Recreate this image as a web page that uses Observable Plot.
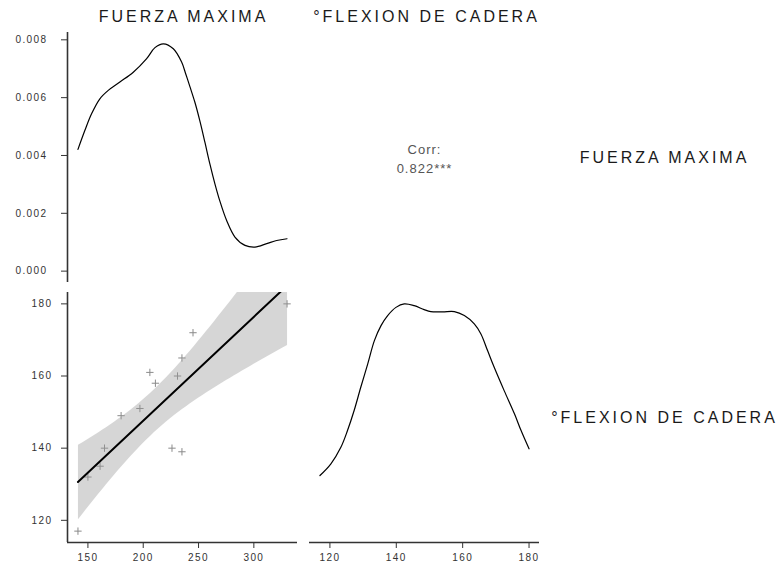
<!DOCTYPE html>
<html><head><meta charset="utf-8">
<script src="https://cdn.jsdelivr.net/npm/d3@7"></script>
<script src="https://cdn.jsdelivr.net/npm/@observablehq/plot@0.6"></script>
<style>
body{margin:0;background:#fff;}
#chart{position:relative;width:778px;height:567px;overflow:hidden;font-family:"Liberation Sans",Arial,sans-serif;background:#fff;}
.panel{position:absolute;}
.strip{position:absolute;font-size:16px;line-height:16px;letter-spacing:3px;color:#1a1a1a;white-space:nowrap;text-align:center;width:260px;padding-left:3px;}
</style></head><body><div id="chart"></div>
<script>
// ---- data ----
const variables = ["FUERZA MAXIMA", "°FLEXION DE CADERA"];
const fuerzaMaxima  = [141, 150, 161, 165, 180, 197, 206, 211, 226, 231, 235, 235, 245, 330];
const flexionCadera = [117, 132, 135, 140, 149, 151, 161, 158, 140, 160, 165, 139, 172, 180];
const corrLabel = "Corr:";
const corrValue = "0.822***";
// density of FUERZA MAXIMA
const fuerzaDensX = [141, 147.3, 153.3, 160.8, 168.4, 178.9, 191.0, 203.1, 210.6, 218.2, 227.2, 234.7, 238.6, 242.2, 246.7, 251.3, 255.8, 260.3, 264.8, 269.3, 275.4, 282.9, 292.0, 301.0, 311.6, 320.6, 330];
const fuerzaDensY = [0.00421, 0.00487, 0.00544, 0.00596, 0.00625, 0.00654, 0.00688, 0.00735, 0.00773, 0.00786, 0.00769, 0.00723, 0.00680, 0.00638, 0.00584, 0.00518, 0.00445, 0.00370, 0.00302, 0.00242, 0.00175, 0.00118, 0.00089, 0.00083, 0.00095, 0.00106, 0.00112];
// density of °FLEXION DE CADERA
const flexionDensX = [117, 120.3, 123.3, 125.3, 127.3, 129.3, 131.4, 133.4, 135.4, 137.4, 139.9, 142.4, 145.4, 148.4, 150.4, 154.0, 157.5, 160.5, 163.5, 165.5, 167.5, 169.5, 172.5, 175.6, 177.6, 180];
const flexionDensY = [0.00475, 0.00575, 0.00716, 0.00859, 0.01030, 0.01229, 0.01428, 0.01627, 0.01755, 0.01841, 0.01911, 0.01941, 0.01926, 0.01892, 0.01875, 0.01873, 0.01875, 0.01841, 0.01770, 0.01684, 0.01542, 0.01399, 0.01200, 0.01002, 0.00859, 0.00703];
const densityTicks = [0, 0.002, 0.004, 0.006, 0.008];
const fuerzaTicks = [150, 200, 250, 300];
const flexionTicks = [120, 140, 160, 180];

// ---- derived tables ----
const points = fuerzaMaxima.map((x, i) => ({x, y: flexionCadera[i]}));
const fuerzaDens = fuerzaDensX.map((x, i) => ({x, y: fuerzaDensY[i]}));
const flexionDens = flexionDensX.map((x, i) => ({x, y: flexionDensY[i]}));
const expand = ([a, b], f = 0.05) => [a - f * (b - a), b + f * (b - a)];

const fuerzaDomain = expand(d3.extent(fuerzaMaxima));
const flexionDomain = expand(d3.extent(flexionCadera));
const fuerzaDensDomain = expand([0, d3.max(fuerzaDensY)]);
const flexionDensDomain = expand([0, d3.max(flexionDensY)]);

const axisColor = "#333";
const baseStyle = "font-family:'Liberation Sans',Arial,sans-serif;font-size:10px;letter-spacing:1.4px;color:#333;background:transparent;overflow:visible;";

const chart = document.getElementById("chart");
function place(node, left, top) {
  const d = document.createElement("div");
  d.className = "panel";
  d.style.left = left + "px";
  d.style.top = top + "px";
  d.appendChild(node);
  chart.appendChild(d);
}

// top-left: density of FUERZA MAXIMA
place(Plot.plot({
  width: 300, height: 290,
  marginLeft: 67, marginRight: 3, marginTop: 32, marginBottom: 8,
  style: baseStyle,
  x: {domain: fuerzaDomain, axis: null},
  y: {domain: fuerzaDensDomain},
  marks: [
    Plot.axisY(densityTicks, {tickSize: 6, tickPadding: 14, tickFormat: d3.format(".3f"), label: null, stroke: axisColor}),
    Plot.ruleX([fuerzaDomain[0]], {stroke: axisColor, strokeWidth: 1.6}),
    Plot.line(fuerzaDens, {x: "x", y: "y", curve: "catmull-rom", stroke: "black", strokeWidth: 1.2})
  ]
}), 0, 0);

// top-right: correlation text
place(Plot.plot({
  width: 250, height: 290,
  marginLeft: 9, marginRight: 11, marginTop: 32, marginBottom: 8,
  style: "font-family:'Liberation Sans',Arial,sans-serif;background:transparent;overflow:visible;letter-spacing:1px;",
  marks: [
    Plot.text([corrLabel + "\n" + corrValue], {text: d => d, frameAnchor: "middle", fontSize: 13, lineHeight: 1.45, fill: "#555"})
  ]
}), 300, 0);

// bottom-left: scatter + linear fit
place(Plot.plot({
  width: 300, height: 277,
  marginLeft: 67, marginRight: 3, marginTop: 2, marginBottom: 25,
  style: baseStyle,
  x: {domain: fuerzaDomain},
  y: {domain: flexionDomain},
  marks: [
    Plot.axisY(flexionTicks, {tickSize: 6, tickPadding: 9, label: null, stroke: axisColor}),
    Plot.axisX(fuerzaTicks, {tickSize: 6, tickPadding: 5, label: null, stroke: axisColor}),
    Plot.dot(points, {x: "x", y: "y", symbol: "plus", r: 2.5, stroke: "#8a8a8a", strokeWidth: 1}),
    Plot.linearRegressionY(points, {x: "x", y: "y", stroke: "black", strokeWidth: 2, fill: "#999", fillOpacity: 0.4, ci: 0.95, clip: true}),
    Plot.ruleX([fuerzaDomain[0]], {stroke: axisColor, strokeWidth: 1.6}),
    Plot.ruleY([flexionDomain[0]], {stroke: axisColor, strokeWidth: 1.6})
  ]
}), 0, 290);

// bottom-right: density of °FLEXION DE CADERA
place(Plot.plot({
  width: 250, height: 277,
  marginLeft: 9, marginRight: 11, marginTop: 2, marginBottom: 25,
  style: baseStyle,
  x: {domain: flexionDomain},
  y: {domain: flexionDensDomain, axis: null},
  marks: [
    Plot.axisX(flexionTicks, {tickSize: 6, tickPadding: 5, label: null, stroke: axisColor}),
    Plot.ruleY([flexionDensDomain[0]], {stroke: axisColor, strokeWidth: 1.6}),
    Plot.line(flexionDens, {x: "x", y: "y", curve: "catmull-rom", stroke: "black", strokeWidth: 1.2})
  ]
}), 300, 290);

// strip labels
function strip(text, centerX, centerY) {
  const d = document.createElement("div");
  d.className = "strip";
  d.textContent = text;
  d.style.left = (centerX - 130 - 1.5) + "px";
  d.style.top = (centerY - 7.7) + "px";
  chart.appendChild(d);
}
strip(variables[0], 182, 17);
strip(variables[1], 425, 17);
strip(variables[0], 663, 158);
strip(variables[1], 663, 418);
</script></body></html>
